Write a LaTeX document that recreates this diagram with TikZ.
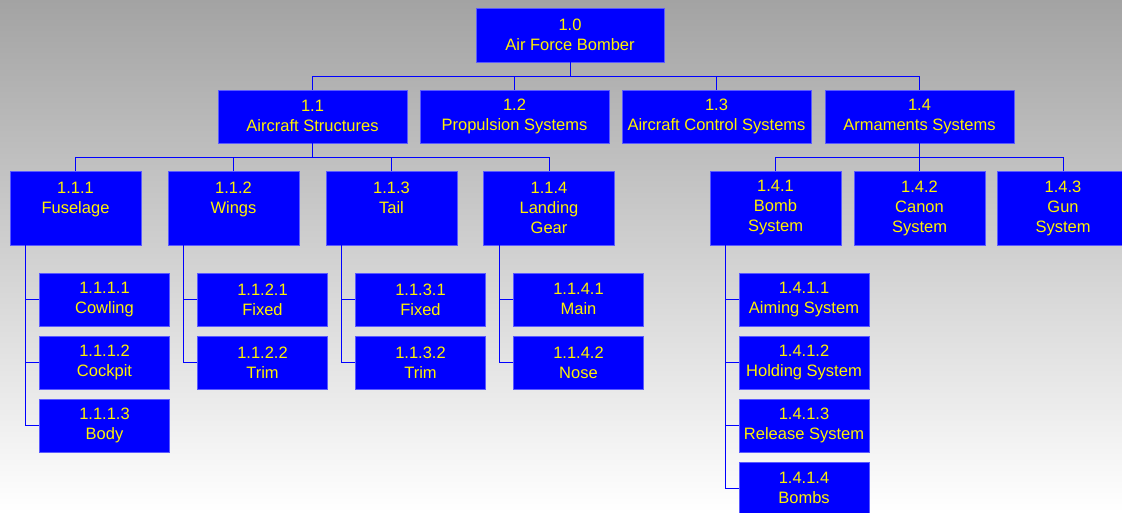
\documentclass[tikz,border=0pt]{standalone}
\usepackage{fontspec}
\setmainfont{Liberation Sans}
\usetikzlibrary{positioning}
\definecolor{bggray}{RGB}{163,163,163}
\definecolor{boxline}{RGB}{90,90,255}
\newcommand{\lstrut}{\rule[-0.5pt]{0pt}{20.5pt}}
\tikzset{
    wbs/.style={draw=boxline, fill=blue, text=yellow, align=center, inner sep=0pt,
                line width=0.6pt, font=\fontsize{16.5}{20}\selectfont,
                execute at begin node=\lstrut, execute at end node=\lstrut},
    rootbox/.style={wbs, minimum width=188pt, minimum height=54pt},
    mainbox/.style={wbs, minimum width=189pt, minimum height=53pt},
    subbox/.style={wbs, minimum width=131pt, minimum height=74pt},
    leaf/.style={wbs, minimum width=130pt, minimum height=53pt},
    link/.style={draw=blue, line width=0.9pt}
}

\begin{document}
\begin{tikzpicture}[x=1pt, y=-1pt]
            \useasboundingbox (0,0) rectangle (1122,512);
            \shade[top color=bggray, bottom color=white] (0,0) rectangle (1122,512);

            % level 0 and 1
            \node[rootbox] (root) at (570,35) {1.0\\Air Force Bomber};
            \node[mainbox] (a11) at (312.5,116.5) {1.1\\Aircraft Structures};
            \node[mainbox] (a12) at (514.5,116.5) {1.2\\Propulsion Systems};
            \node[mainbox] (a13) at (716.5,116.5) {1.3\\Aircraft Control Systems};
            \node[mainbox] (a14) at (919.5,116.5) {1.4\\Armaments Systems};

            % level 2
            \node[subbox] (a111) at (75.5,208) {1.1.1\\Fuselage\\};
            \node[subbox] (a112) at (233.5,208) {1.1.2\\Wings\\};
            \node[subbox] (a113) at (391.5,208) {1.1.3\\Tail\\};
            \node[subbox] (a114) at (549,208) {1.1.4\\Landing\\Gear};
            \node[subbox] (a141) at (775.5,208) {1.4.1\\Bomb\\System};
            \node[subbox] (a142) at (919.5,208) {1.4.2\\Canon\\System};
            \node[subbox] (a143) at (1063,208) {1.4.3\\Gun\\System};

            % level 3
            \foreach \n/\t [count=\i] in {1/Cowling, 2/Cockpit, 3/Body}{
                \node[leaf] (a111\n) at (104.5,236.5+63*\i) {1.1.1.\n\\\t};
            }
            \foreach \n/\t [count=\i] in {1/Fixed, 2/Trim}{
                \node[leaf] (a112\n) at (262.5,236.5+63*\i) {1.1.2.\n\\\t};
            }
            \foreach \n/\t [count=\i] in {1/Fixed, 2/Trim}{
                \node[leaf] (a113\n) at (420.5,236.5+63*\i) {1.1.3.\n\\\t};
            }
            \foreach \n/\t [count=\i] in {1/Main, 2/Nose}{
                \node[leaf] (a114\n) at (578.5,236.5+63*\i) {1.1.4.\n\\\t};
            }
            \foreach \n/\t [count=\i] in {1/Aiming System, 2/Holding System, 3/Release System, 4/Bombs}{
                \node[leaf] (a141\n) at (804,236.5+63*\i) {1.4.1.\n\\\t};
            }

            % connectors
            \draw[link] (root.south) -- ++(0,14) coordinate (b0);
            \draw[link] (a11.north) |- (b0) -| (a14.north);
            \foreach \k in {a12,a13}{
                \draw[link] (\k.north) -- (\k.north |- b0);
            }

            \draw[link] (a11.south) -- ++(0,14) coordinate (b1);
            \draw[link] (a111.north) |- (b1) -| (a114.north);
            \foreach \k in {a112,a113}{
                \draw[link] (\k.north) -- (\k.north |- b1);
            }

            \draw[link] (a14.south) -- ++(0,14) coordinate (b4);
            \draw[link] (a141.north) |- (b4) -| (a143.north);
            \draw[link] (a142.north) -- (b4);

            % spines down the left side
            \foreach \p/\last in {a111/3, a112/2, a113/2, a114/2, a141/4}{
                \coordinate (s\p) at ([xshift=16pt]\p.south west);
                \draw[link] (s\p) |- (\p\last.west);
                \foreach \c in {1,...,\last}{
                    \draw[link] (\p\c.west) -- (\p\c.west -| s\p);
                }
            }
\end{tikzpicture}
\end{document}
